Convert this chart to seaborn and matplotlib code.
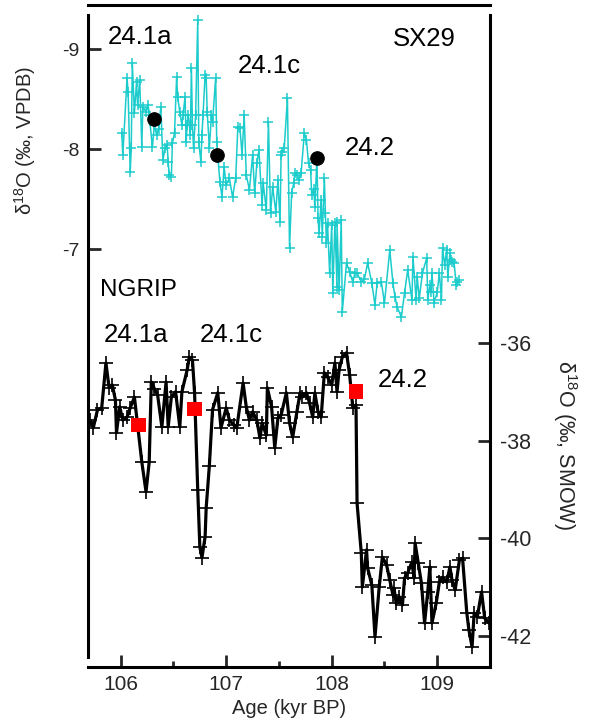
import matplotlib
matplotlib.use("Agg")
import matplotlib.pyplot as plt
import seaborn as sns
import pandas as pd
from matplotlib.ticker import MultipleLocator

# ---------------- data ----------------
sx29_age = [106.01, 106.02, 106.06, 106.07, 106.09, 106.10, 106.11, 106.13, 106.15, 106.16,
            106.18, 106.20, 106.21, 106.24, 106.26, 106.27, 106.30, 106.32, 106.34, 106.36,
            106.38, 106.40, 106.42, 106.44, 106.45, 106.46, 106.48, 106.49, 106.51, 106.53,
            106.54, 106.56, 106.58, 106.59, 106.61, 106.62, 106.63, 106.64, 106.66, 106.67,
            106.68, 106.69, 106.71, 106.73, 106.74, 106.76, 106.77, 106.78, 106.80, 106.81,
            106.82, 106.84, 106.86, 106.87, 106.90, 106.91, 106.92, 106.94, 106.96, 106.98,
            107.00, 107.03, 107.06, 107.09, 107.11, 107.13, 107.15, 107.17, 107.19, 107.22,
            107.25, 107.27, 107.29, 107.31, 107.34, 107.35, 107.38, 107.40, 107.42, 107.44,
            107.47, 107.49, 107.51, 107.52, 107.53, 107.55, 107.58, 107.60, 107.62, 107.64,
            107.65, 107.67, 107.69, 107.71, 107.74, 107.76, 107.78, 107.80, 107.81, 107.83,
            107.84, 107.86, 107.87, 107.88, 107.90, 107.91, 107.93, 107.94, 107.95, 107.96,
            107.98, 108.00, 108.01, 108.03, 108.05, 108.05, 108.07, 108.09, 108.10, 108.14,
            108.17, 108.20, 108.22, 108.24, 108.28, 108.31, 108.34, 108.38, 108.41, 108.43,
            108.47, 108.50, 108.55, 108.58, 108.60, 108.62, 108.66, 108.69, 108.72, 108.76,
            108.77, 108.80, 108.81, 108.83, 108.86, 108.90, 108.91, 108.93, 108.94, 108.95,
            108.97, 109.00, 109.02, 109.04, 109.05, 109.07, 109.09, 109.10, 109.12, 109.13,
            109.14, 109.16, 109.18, 109.19, 109.21]
sx29_d18o = [-8.16, -7.94, -8.71, -8.57, -7.77, -8.01, -8.86, -8.36, -8.67, -8.44,
             -8.69, -8.02, -8.42, -8.37, -8.44, -8.34, -8.02, -8.24, -8.14, -8.20,
             -8.42, -7.89, -8.01, -8.04, -7.87, -7.74, -7.72, -8.06, -8.16, -8.72,
             -8.52, -8.37, -8.24, -8.34, -8.52, -8.07, -8.24, -8.34, -8.14, -8.81,
             -8.24, -8.01, -8.34, -9.29, -8.07, -7.87, -8.14, -8.34, -8.74, -8.71,
             -8.37, -8.01, -8.34, -8.27, -8.71, -8.07, -7.94, -7.67, -7.52, -7.82,
             -7.64, -7.71, -7.52, -7.71, -8.22, -8.21, -7.94, -8.34, -7.74, -7.59,
             -7.94, -7.56, -7.86, -7.99, -7.44, -7.66, -7.39, -8.27, -7.36, -7.62,
             -7.37, -7.69, -7.27, -7.94, -7.97, -8.01, -8.51, -7.01, -7.56, -7.66,
             -7.76, -7.74, -7.69, -7.76, -8.16, -8.09, -7.86, -7.79, -7.54, -7.60,
             -7.42, -7.91, -7.31, -7.16, -7.49, -7.12, -7.71, -7.36, -7.06, -7.26,
             -6.76, -7.24, -6.56, -7.26, -6.62, -7.27, -6.59, -7.29, -6.37, -6.86,
             -6.77, -6.67, -6.76, -6.76, -6.67, -6.70, -6.86, -6.66, -6.44, -6.66,
             -6.67, -6.46, -6.99, -6.66, -6.52, -6.42, -6.32, -6.56, -6.79, -6.49,
             -6.92, -6.49, -6.72, -6.51, -6.76, -6.91, -6.49, -6.64, -6.57, -6.76,
             -6.46, -6.57, -6.76, -6.49, -7.01, -6.84, -6.99, -6.72, -6.96, -6.89,
             -6.87, -6.86, -6.64, -6.67, -6.69]

ngrip_age = [105.71, 105.74, 105.78, 105.82, 105.86, 105.89, 105.92, 105.95, 105.96, 105.99,
             106.02, 106.06, 106.09, 106.13, 106.20, 106.24, 106.27, 106.29, 106.32, 106.35,
             106.39, 106.43, 106.45, 106.48, 106.52, 106.56, 106.58, 106.63, 106.65, 106.68,
             106.70, 106.73, 106.75, 106.77, 106.80, 106.81, 106.84, 106.87, 106.92, 106.95,
             107.00, 107.03, 107.07, 107.10, 107.16, 107.19, 107.22, 107.25, 107.29, 107.32,
             107.34, 107.38, 107.39, 107.43, 107.46, 107.49, 107.52, 107.57, 107.60, 107.63,
             107.67, 107.70, 107.72, 107.76, 107.79, 107.82, 107.84, 107.87, 107.90, 107.93,
             107.96, 108.00, 108.03, 108.05, 108.07, 108.10, 108.14, 108.17, 108.20, 108.23,
             108.24, 108.28, 108.29, 108.33, 108.34, 108.38, 108.41, 108.45, 108.48, 108.52,
             108.55, 108.58, 108.59, 108.61, 108.64, 108.67, 108.69, 108.72, 108.76, 108.78,
             108.79, 108.82, 108.85, 108.88, 108.91, 108.93, 108.95, 108.99, 109.02, 109.05,
             109.09, 109.12, 109.14, 109.17, 109.21, 109.24, 109.28, 109.30, 109.33, 109.35,
             109.38, 109.42, 109.45, 109.49]
ngrip_d18o = [-37.58, -37.74, -37.37, -37.33, -36.41, -36.92, -36.86, -37.17, -37.84, -37.31,
              -37.58, -37.52, -37.33, -37.11, -38.44, -39.05, -38.44, -36.80, -36.94, -37.07,
              -37.72, -36.80, -37.72, -37.11, -37.00, -37.72, -37.00, -36.55, -36.29, -36.35,
              -37.02, -39.01, -40.18, -40.40, -39.97, -39.38, -38.52, -37.37, -37.02, -37.74,
              -37.33, -37.58, -37.68, -37.74, -36.82, -37.31, -37.58, -37.41, -37.58, -37.95,
              -37.64, -37.89, -36.92, -37.31, -38.15, -37.54, -37.48, -37.02, -37.64, -37.93,
              -37.41, -37.02, -37.11, -37.02, -37.23, -37.52, -37.02, -37.41, -37.52, -36.61,
              -36.70, -36.86, -36.41, -37.00, -36.55, -36.29, -36.20, -36.66, -37.33, -37.27,
              -39.28, -40.30, -41.00, -40.24, -40.61, -40.96, -42.02, -41.00, -40.39, -40.55,
              -40.86, -41.16, -41.02, -41.33, -41.20, -41.37, -40.82, -40.71, -40.49, -40.82,
              -40.10, -40.51, -40.92, -41.74, -41.10, -40.59, -41.74, -41.33, -40.90, -40.80,
              -40.90, -40.59, -40.86, -41.06, -40.45, -40.41, -41.53, -41.88, -42.23, -41.53,
              -41.61, -41.10, -41.64, -41.74]

sx29_tie_age = [106.32, 106.91, 107.86]
sx29_tie_d18o = [-8.30, -7.94, -7.91]
ngrip_tie_age = [106.17, 106.70, 108.23]
ngrip_tie_d18o = [-37.68, -37.35, -37.00]

x_ticks = [106, 107, 108, 109]
left_ticks = [-9, -8, -7]
right_ticks = [-36, -38, -40, -42]

# ---------------- style ----------------
sns.set_style("ticks")
plt.rcParams["font.family"] = ["Liberation Sans", "DejaVu Sans"]
plt.rcParams["mathtext.fontset"] = "custom"
plt.rcParams["mathtext.rm"] = "Liberation Sans"
plt.rcParams["mathtext.it"] = "Liberation Sans:italic"
plt.rcParams["mathtext.default"] = "rm"

W, H = 595, 725
fig = plt.figure(figsize=(W / 100, H / 100), dpi=100)
L, R, T, B = 88, 490, 15, 667
ax1 = fig.add_axes([L / W, (H - B) / H, (R - L) / W, (B - T) / H])
ax2 = ax1.twinx()

cyan = "#1ccccc"
sx = pd.DataFrame({"age": sx29_age, "d18o": sx29_d18o})
ng = pd.DataFrame({"age": ngrip_age, "d18o": ngrip_d18o})

sns.lineplot(data=sx, x="age", y="d18o", ax=ax1, color=cyan, lw=1.1,
             marker="+", markersize=6.5, markeredgewidth=1.1,
             markeredgecolor=cyan, markerfacecolor=cyan, sort=False,
             estimator=None)
sns.scatterplot(x=sx29_tie_age, y=sx29_tie_d18o, ax=ax1, color="black", s=95,
                marker="o", edgecolor="black", zorder=5)

sns.lineplot(data=ng, x="age", y="d18o", ax=ax2, color="black", lw=2.3,
             marker="+", markersize=9.5, markeredgewidth=1.2,
             markeredgecolor="black", markerfacecolor="black", sort=False,
             estimator=None)
sns.scatterplot(x=ngrip_tie_age, y=ngrip_tie_d18o, ax=ax2, color="#ff0000", s=110,
                marker="s", edgecolor="none", zorder=5)

# axes ranges
ax1.set_xlim(105.69, 109.5)
ax1.set_ylim(-2.82, -9.34)
ax2.set_ylim(-42.64, -29.28)

# spines
for ax in (ax1, ax2):
    for s in ax.spines.values():
        s.set_linewidth(2.2)
        s.set_color("black")
ax1.spines["right"].set_visible(False)
ax2.spines["left"].set_visible(False)
ax2.spines["top"].set_visible(False)
ax2.spines["bottom"].set_visible(False)
ax1.spines["top"].set_position(("outward", 7.2))
ax1.spines["left"].set_bounds(-9.34, -2.92)

# ticks
ax1.set_xticks(x_ticks)
ax1.set_xticklabels([str(t) for t in x_ticks])
ax1.xaxis.set_minor_locator(MultipleLocator(0.5))
ax1.tick_params(axis="x", which="major", direction="in", length=9, width=2,
                labelsize=15, pad=6, top=False)
ax1.tick_params(axis="x", which="minor", direction="in", length=4.5, width=2, top=False)
ax1.set_yticks(left_ticks)
ax1.set_yticklabels([str(t) for t in left_ticks])
ax1.tick_params(axis="y", direction="in", length=9, width=2, labelsize=14, pad=6,
                right=False)
ax2.set_yticks(right_ticks)
ax2.set_yticklabels([str(t) for t in right_ticks])
ax2.tick_params(axis="y", direction="in", length=9, width=2, labelsize=15.5, pad=7)

# labels
ax1.set_xlabel("Age (kyr BP)", fontsize=14.5, labelpad=3)
ax1.set_ylabel(r"$\delta^{18}$O (‰, VPDB)", fontsize=14.5)
ax1.yaxis.set_label_coords((38 - L) / (R - L), (B - 140) / (B - T))
ax2.set_ylabel(r"$\delta^{18}$O (‰, SMOW)", fontsize=15.5, rotation=270, va="center")
ax2.yaxis.set_label_coords((565 - L) / (R - L), (B - 445) / (B - T))

def axpos(px, py):
    return ((px - L) / (R - L), (B - py) / (B - T))

texts = [
    ("24.1a", 108, 37, 18.5),
    ("SX29", 393, 39, 18.5),
    ("24.1c", 238, 66, 18.5),
    ("24.2", 345, 148, 18.5),
    ("NGRIP", 100, 290, 17.5),
    ("24.1a", 104, 335, 18.5),
    ("24.1c", 200, 335, 18.5),
    ("24.2", 378, 380, 18.5),
]
for s, px, py, fs in texts:
    x, y = axpos(px, py)
    ax2.text(x, y, s, transform=ax2.transAxes, ha="left", va="center",
             fontsize=fs, color="black")

fig.savefig("out.png", dpi=100)
